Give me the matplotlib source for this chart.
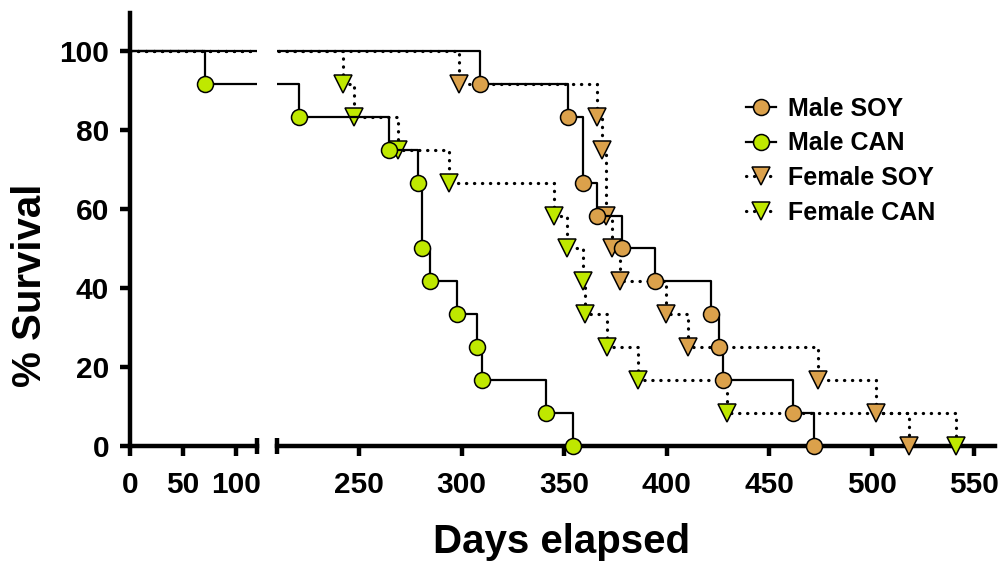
import matplotlib
matplotlib.use("Agg")
import matplotlib.pyplot as plt
from matplotlib.lines import Line2D

# ---------------- data ----------------
male_soy_days = [309, 352, 359, 366.2, 378.4, 394.3, 421.5, 425.7, 427.6, 461.7, 471.8]
male_soy_surv = [91.67, 83.33, 66.67, 58.33, 50.0, 41.67, 33.33, 25.0, 16.67, 8.33, 0.0]

male_can_days = [71, 220.7, 264.6, 278.7, 280.7, 284.6, 297.6, 307.5, 309.8, 341, 354.2]
male_can_surv = [91.67, 83.33, 75.0, 66.67, 50.0, 41.67, 33.33, 25.0, 16.67, 8.33, 0.0]

female_soy_days = [298.7, 366.2, 368.3, 370.4, 373.2, 377.2, 399.5, 410.5, 473.9, 502, 518.1]
female_soy_surv = [91.67, 83.33, 75.0, 58.33, 50.0, 41.67, 33.33, 25.0, 16.67, 8.33, 0.0]

female_can_days = [242.3, 247.5, 269.1, 293.9, 345.1, 351.3, 359, 360.2, 370.7, 386.2, 429.5, 541.1]
female_can_surv = [91.67, 83.33, 75.0, 66.67, 58.33, 50.0, 41.67, 33.33, 25.0, 16.67, 8.33, 0.0]

labels = ["Male SOY", "Male CAN", "Female SOY", "Female CAN"]
seg1_ticks = [0, 50, 100]
seg2_ticks = [250, 300, 350, 400, 450, 500, 550]
y_ticks = [0, 20, 40, 60, 80, 100]

ORANGE = "#DBA14B"
GREEN = "#BFE800"

plt.rcParams['font.family'] = ['Liberation Sans', 'DejaVu Sans']
plt.rcParams['font.weight'] = 'bold'

W, H = 1007, 565
fig = plt.figure(figsize=(W / 100, H / 100), dpi=100)

ybot, ytop = -3.0, 109.6
ax_bottom = 1 - 457.85 / H
ax_height = (457.85 - 13) / H
ax1 = fig.add_axes([130 / W, ax_bottom, 127 / W, ax_height])
ax2 = fig.add_axes([277 / W, ax_bottom, 718 / W, ax_height])

DOT = (0, (0.1, 2.4))
series = [
    (male_soy_days, male_soy_surv, ORANGE, 'o', '-', 1.6, 11.5, 4),
    (male_can_days, male_can_surv, GREEN, 'o', '-', 1.6, 11.5, 4),
    (female_soy_days, female_soy_surv, ORANGE, 'v', DOT, 2.3, 13, 3),
    (female_can_days, female_can_surv, GREEN, 'v', DOT, 2.3, 13, 3),
]

SP_LW = 3.2
TICK_FS = 21.5
for ax, xlim, ticks in [(ax1, (0, 120), seg1_ticks), (ax2, (210, 560), seg2_ticks)]:
    for days, surv, col, mk, ls, lw, ms, z in series:
        xs = [0] + list(days)
        ys = [100] + list(surv)
        ax.plot(xs, ys, drawstyle='steps-post', color='black', lw=lw, ls=ls,
                dash_capstyle='round', zorder=z)
        ax.plot(days, surv, ls='none', marker=mk, ms=ms, mfc=col, mec='black', mew=1.1, zorder=z + 0.5)
    ax.set_xlim(*xlim)
    ax.set_ylim(ybot, ytop)
    ax.set_xticks(ticks)
    ax.spines['top'].set_visible(False)
    ax.spines['right'].set_visible(False)
    ax.spines['bottom'].set_position(('data', 0))
    ax.spines['bottom'].set_linewidth(SP_LW)
    ax.tick_params(axis='x', direction='out', length=7, width=SP_LW, labelsize=TICK_FS, pad=11)
    for lab in ax.get_xticklabels():
        lab.set_fontweight('bold')
    ax.patch.set_visible(False)
    # break caps
    tr = ax.get_yaxis_transform()
    cap_x = 1 if ax is ax1 else 0
    ax.plot([cap_x], [0], marker='|', ms=11, mew=SP_LW, color='black', transform=tr, clip_on=False)

ax1.spines['left'].set_linewidth(SP_LW)
ax1.spines['left'].set_bounds(0, ytop)
ax1.set_yticks(y_ticks)
ax1.tick_params(axis='y', direction='out', length=7, width=SP_LW, labelsize=TICK_FS, pad=8)
for lab in ax1.get_yticklabels():
    lab.set_fontweight('bold')
ax2.spines['left'].set_visible(False)
ax2.set_yticks([])

fig.text(562 / W, 1 - 553 / H, "Days elapsed", ha='center', va='baseline', fontsize=29, fontweight='bold')
fig.text(30 / W, 1 - 285 / H, "% Survival", ha='center', va='center', rotation=90, fontsize=29, fontweight='bold')

handles = []
for days, surv, col, mk, ls, lw, ms, z in series:
    handles.append(Line2D([], [], color='black', lw=lw, ls=ls, dash_capstyle='round',
                          marker=mk, ms=ms, mfc=col, mec='black', mew=1.1))
leg = fig.legend(handles, labels, loc='upper left', bbox_to_anchor=(746 / W, 1 - 97 / H), frameon=False,
                 prop={'size': 18, 'weight': 'bold'}, handlelength=1.2, handletextpad=0.5,
                 labelspacing=0.42, borderpad=0, borderaxespad=0)

fig.savefig("out.png", dpi=100)
